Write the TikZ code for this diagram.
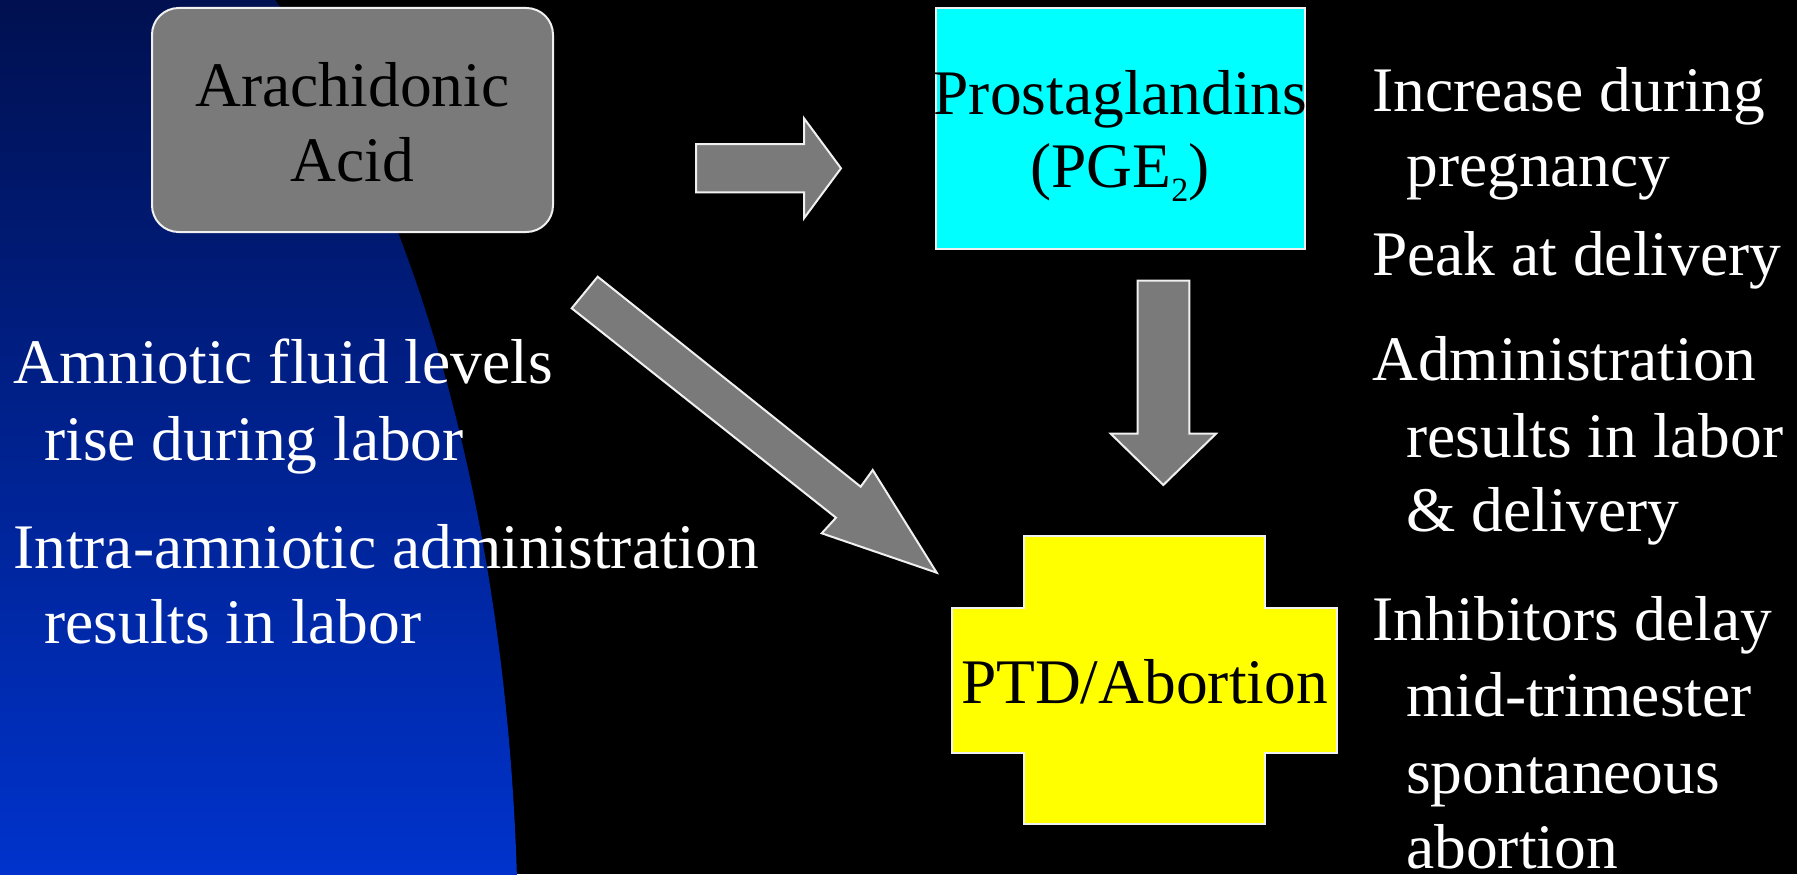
\documentclass[tikz,border=0pt]{standalone}
\usepackage{fontspec}
\setmainfont{Liberation Serif}
\definecolor{navytop}{HTML}{001050}
\definecolor{navymid}{HTML}{0030A6}
\definecolor{navybot}{HTML}{0033CC}
\definecolor{boxgray}{HTML}{7A7A7A}
\definecolor{edgewhite}{HTML}{F0F0F0}
\definecolor{pgcyan}{HTML}{00FFFF}
\definecolor{ptdyellow}{HTML}{FFFF00}
\tikzset{
  txt/.style={font=\fontsize{47.6pt}{56pt}\selectfont, text=white, inner sep=0pt, anchor=base west},
  boxtxt/.style={font=\fontsize{47.6pt}{56pt}\selectfont, text=black, inner sep=0pt, anchor=base},
  blockarrow/.style={fill=boxgray, draw=edgewhite, line width=1.5pt, line join=miter},
  shapebox/.style={draw=edgewhite, line width=1.5pt, inner sep=0pt}
}
\begin{document}
\begin{tikzpicture}[x=0.75pt, y=-0.75pt]
\useasboundingbox (0,0) rectangle (1797,874);
\fill[black] (0,0) rectangle (1797,874);
% blue background region
\begin{scope}
  \clip (0,950) ellipse [x radius=518, y radius=1121];
  \shade[top color=navytop, middle color=navymid, bottom color=navybot] (0,0) rectangle (600,874);
\end{scope}

% boxes
\node[shapebox, rectangle, rounded corners=20pt, fill=boxgray, minimum width=300.75pt, minimum height=168pt] (arach) at (352.5,120) {};
\node[boxtxt] (arachA) at (352.5,106) {Arachidonic};
\node[boxtxt] (arachB) at (352.5,181) {Acid};

\node[shapebox, rectangle, fill=pgcyan, minimum width=276.75pt, minimum height=180.75pt] (prost) at (1120.5,128.5) {};
\node[boxtxt] (prostA) at (1120.5,114.3) {Prostaglandins};
\node[boxtxt] (prostB) at (1120,187) {(PGE\raisebox{-11pt}{\fontsize{25.5pt}{30pt}\selectfont 2})};

% cross shape
\draw[shapebox, fill=ptdyellow] (1023.7,536.2) -- (1265.3,536.2) -- (1265.3,608.1) -- (1337,608.1) -- (1337,752.5) -- (1265.3,752.5) -- (1265.3,823.9) -- (1023.7,823.9) -- (1023.7,752.5) -- (951.7,752.5) -- (951.7,608.1) -- (1023.7,608.1) -- cycle;
\node[boxtxt] (ptd) at (1144.4,703.4) {PTD/Abortion};

% block arrows
\draw[blockarrow] (696,144) -- (804,144) -- (804,118.3) -- (841,168.3) -- (804,218.3) -- (804,192.3) -- (696,192.3) -- cycle;
\draw[blockarrow] (1137.5,280.5) -- (1189.3,280.5) -- (1189.3,433.7) -- (1216,433.7) -- (1163.3,485) -- (1110.7,433.7) -- (1137.5,433.7) -- cycle;
\draw[blockarrow] (597.7,276.7) -- (860.7,486.7) -- (872.7,470) -- (936.7,572.7) -- (821.7,533.3) -- (836,517.7) -- (571.7,308.3) -- cycle;

% left text
\node[txt] (l1a) at (13,383.5) {Amniotic fluid levels};
\node[txt] (l1b) at (44,460) {rise during labor};
\node[txt] (l2a) at (13,568.6) {Intra-amniotic administration};
\node[txt] (l2b) at (44,643.8) {results in labor};

% right text
\node[txt] (r1a) at (1372,111.5) {Increase during};
\node[txt] (r1b) at (1406,186.7) {pregnancy};
\node[txt] (r2) at (1372,275.5) {Peak at delivery};
\node[txt] (r3a) at (1372,380.5) {Administration};
\node[txt] (r3b) at (1406,457) {results in labor};
\node[txt] (r3c) at (1406,531) {\& delivery};
\node[txt] (r4a) at (1372,640) {Inhibitors delay};
\node[txt] (r4b) at (1406,716.5) {mid-trimester};
\node[txt] (r4c) at (1406,793) {spontaneous};
\node[txt, text depth=0pt] (r4d) at (1406,868) {abortion};
\end{tikzpicture}
\end{document}
